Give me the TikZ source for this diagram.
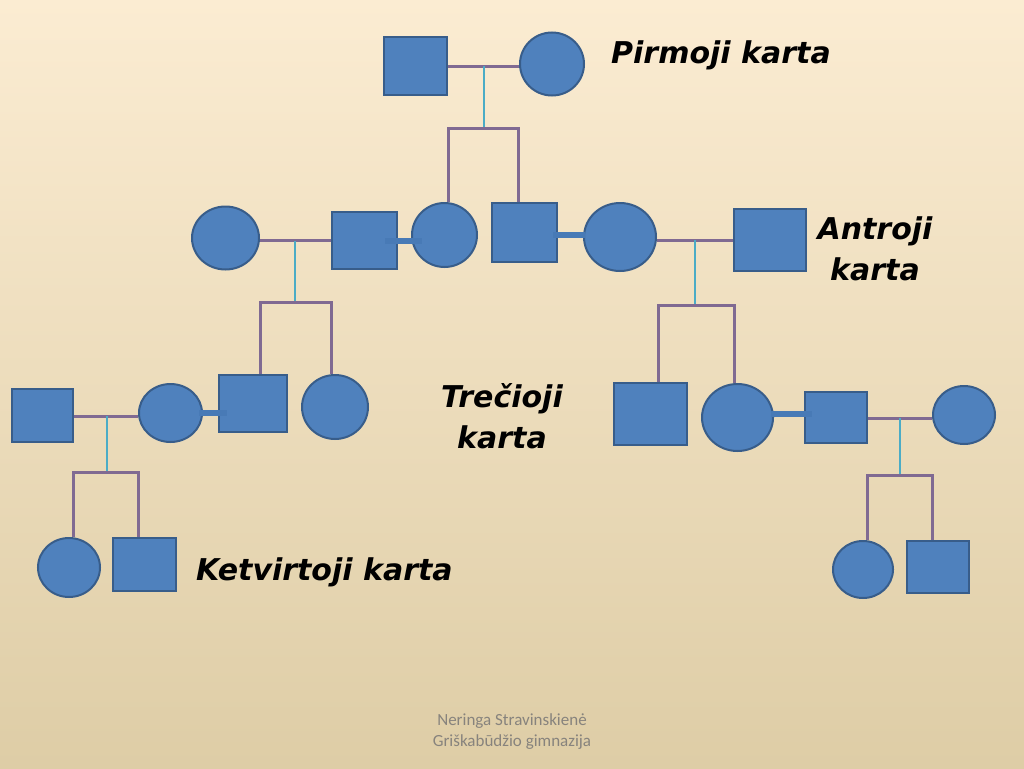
\documentclass[tikz,border=0pt]{standalone}
\usepackage{fontspec}
\setmainfont{DejaVu Sans}
\newfontfamily\footfont{Carlito}
\usetikzlibrary{shapes.geometric}
\definecolor{bgtop}{RGB}{251,236,210}
\definecolor{bgmid}{RGB}{243,233,214}
\definecolor{bgbot}{RGB}{222,205,166}
\definecolor{shapefill}{RGB}{79,129,189}
\definecolor{shapeline}{RGB}{56,93,138}
\definecolor{linkfill}{RGB}{72,122,182}
\definecolor{marline}{RGB}{128,106,146}
\definecolor{kidline}{RGB}{75,172,198}
\definecolor{footgray}{RGB}{135,131,125}
\tikzset{
  sq/.style={rectangle, draw=shapeline, fill=shapefill, line width=2pt, inner sep=0pt},
  ci/.style={ellipse, draw=shapeline, fill=shapefill, line width=2pt, inner sep=0pt},
  mar/.style={draw=marline, line width=3pt},
  kid/.style={draw=kidline, line width=2.5pt},
  link/.style={draw=linkfill, line width=6pt},
  lbl/.style={font=\fontsize{30}{41}\selectfont\bfseries\itshape, align=center, text=black, inner sep=0pt},
  foot/.style={font=\footfont\fontsize{17}{21}\selectfont, text=footgray, align=center, inner sep=0pt}
}
\begin{document}
\begin{tikzpicture}[x=1pt,y=-1pt]
\useasboundingbox (0,0) rectangle (1024,768);
\shade[top color=bgtop, middle color=bgmid, bottom color=bgbot] (0,0) rectangle (1024,768);

% generation 1
\node[sq, minimum width=63pt, minimum height=58pt] (S1) at (415.5,66) {};
\node[ci, minimum width=64pt, minimum height=63pt] (C1) at (552,64) {};

% generation 2
\node[ci, minimum width=67pt, minimum height=63pt] (C2a) at (225.5,238) {};
\node[sq, minimum width=65pt, minimum height=57pt] (S2a) at (364.5,240.5) {};
\node[ci, minimum width=65pt, minimum height=64pt] (C2b) at (444.5,235) {};
\node[sq, minimum width=65pt, minimum height=59pt] (S2b) at (524.5,232.5) {};
\node[ci, minimum width=72pt, minimum height=68pt] (C2c) at (620,237) {};
\node[sq, minimum width=72pt, minimum height=62pt] (S2c) at (770,240) {};

% generation 3
\node[sq, minimum width=61pt, minimum height=53pt] (S3a) at (42.5,415.5) {};
\node[ci, minimum width=63pt, minimum height=58pt] (C3a) at (170.5,413) {};
\node[sq, minimum width=68pt, minimum height=57pt] (S3b) at (253,403.5) {};
\node[ci, minimum width=66pt, minimum height=64pt] (C3b) at (335,407) {};
\node[sq, minimum width=73pt, minimum height=62pt] (S3c) at (650.5,414) {};
\node[ci, minimum width=71pt, minimum height=67pt] (C3c) at (737.5,417.5) {};
\node[sq, minimum width=62pt, minimum height=51pt] (S3d) at (836,417.5) {};
\node[ci, minimum width=62pt, minimum height=58pt] (C3d) at (964,415) {};

% generation 4
\node[ci, minimum width=62pt, minimum height=59pt] (C4a) at (69,567.5) {};
\node[sq, minimum width=63pt, minimum height=53pt] (S4a) at (144.5,564.5) {};
\node[ci, minimum width=60pt, minimum height=57pt] (C4b) at (863,569.5) {};
\node[sq, minimum width=62pt, minimum height=52pt] (S4b) at (938,567) {};

% coordinates of marriage midpoints and sibling bars
\coordinate (m1) at (484,66);   \coordinate (b1) at (484,128.5);
\coordinate (b1l) at (448,128.5); \coordinate (b1r) at (518,128.5);
\coordinate (m2) at (295,240.5); \coordinate (b2) at (295,302);
\coordinate (b2l) at (260,302); \coordinate (b2r) at (331,302);
\coordinate (m3) at (695,240);  \coordinate (b3) at (695,305);
\coordinate (b3l) at (658,305); \coordinate (b3r) at (734,305);
\coordinate (m4) at (107,416);  \coordinate (b4) at (107,472);
\coordinate (b4l) at (73,472);  \coordinate (b4r) at (138,472);
\coordinate (m5) at (900,418);  \coordinate (b5) at (900,475);
\coordinate (b5l) at (867,475); \coordinate (b5r) at (932,475);

% marriage lines
\draw[mar] (S1.east |- m1) -- (C1.west |- m1);
\draw[mar] (C2a.east |- m2) -- (S2a.west |- m2);
\draw[mar] (C2c.east |- m3) -- (S2c.west |- m3);
\draw[mar] (S3a.east |- m4) -- (C3a.west |- m4);
\draw[mar] (S3d.east |- m5) -- (C3d.west |- m5);

% descent lines
\draw[kid] (m1) -- (b1);
\draw[kid] (m2) -- (b2);
\draw[kid] (m3) -- (b3);
\draw[kid] (m4) -- (b4);
\draw[kid] (m5) -- (b5);

% sibling bars
\draw[mar, line join=miter] (b1l |- C2b.north) -- (b1l) -- (b1r) -- (b1r |- S2b.north);
\draw[mar, line join=miter] (b2l |- S3b.north) -- (b2l) -- (b2r) -- (b2r |- C3b.north);
\draw[mar, line join=miter] (b3l |- S3c.north) -- (b3l) -- (b3r) -- (b3r |- C3c.north);
\draw[mar, line join=miter] (b4l |- C4a.north) -- (b4l) -- (b4r) -- (b4r |- S4a.north);
\draw[mar, line join=miter] (b5l |- C4b.north) -- (b5l) -- (b5r) -- (b5r |- S4b.north);

% in-law links
\coordinate (k1a) at ([xshift=-13pt]S2a.east |- 0,241); \coordinate (k1b) at ([xshift=11pt]C2b.west |- 0,241);
\coordinate (k2a) at ([xshift=-5pt]S2b.east |- 0,235);  \coordinate (k2b) at ([xshift=2pt]C2c.west |- 0,235);
\coordinate (k3a) at ([xshift=-4pt]C3a.east |- 0,413);  \coordinate (k3b) at ([xshift=9pt]S3b.west |- 0,413);
\coordinate (k4a) at ([xshift=-3pt]C3c.east |- 0,414);  \coordinate (k4b) at ([xshift=8pt]S3d.west |- 0,414);
\foreach \p in {1,2,3,4}{
  \draw[link] (k\p a) -- (k\p b);
}

% labels
\node[lbl, anchor=west] (L1) at (611,55) {Pirmoji karta};
\node[lbl] (L2) at (875,249) {Antroji\\karta};
\node[lbl] (L3) at (502,416) {Trečioji\\karta};
\node[lbl, anchor=west] (L4) at (196,572) {Ketvirtoji karta};

\node[foot] (F) at (512,732) {Neringa Stravinskienė\\Griškabūdžio gimnazija};
\end{tikzpicture}
\end{document}
